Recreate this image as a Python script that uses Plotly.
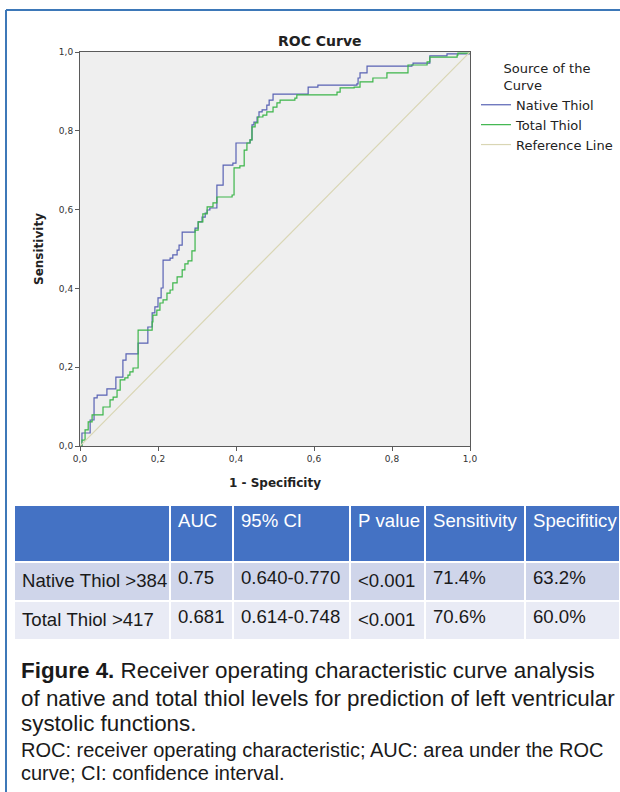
import plotly.graph_objects as go

# ---------------- data ----------------
native_fpr = [0, 0.005, 0.026, 0.036, 0.044, 0.069, 0.092, 0.110, 0.118, 0.149, 0.174, 0.185,
              0.192, 0.200, 0.208, 0.213, 0.231, 0.238, 0.249, 0.254, 0.262, 0.295, 0.303,
              0.313, 0.321, 0.326, 0.333, 0.351, 0.367, 0.392, 0.400, 0.436, 0.441, 0.446,
              0.454, 0.459, 0.467, 0.479, 0.485, 0.495, 0.585, 0.610, 0.710, 0.713, 0.718,
              0.736, 0.851, 0.854, 0.897, 0.941, 1.0]
native_tpr = [0, 0.033, 0.066, 0.122, 0.129, 0.145, 0.175, 0.218, 0.234, 0.261, 0.302, 0.338,
              0.353, 0.376, 0.401, 0.472, 0.477, 0.485, 0.497, 0.510, 0.543, 0.553, 0.569,
              0.581, 0.591, 0.599, 0.604, 0.662, 0.713, 0.718, 0.769, 0.777, 0.815, 0.822,
              0.835, 0.848, 0.853, 0.865, 0.878, 0.893, 0.911, 0.916, 0.919, 0.934, 0.947,
              0.964, 0.967, 0.972, 0.990, 0.995, 1.0]

total_fpr = [0, 0.005, 0.013, 0.021, 0.031, 0.059, 0.077, 0.085, 0.095, 0.103, 0.115, 0.123,
             0.128, 0.136, 0.149, 0.185, 0.187, 0.197, 0.205, 0.213, 0.223, 0.231, 0.238,
             0.249, 0.262, 0.269, 0.277, 0.287, 0.295, 0.303, 0.315, 0.326, 0.341, 0.351,
             0.390, 0.395, 0.410, 0.421, 0.428, 0.436, 0.441, 0.449, 0.456, 0.469, 0.479,
             0.495, 0.505, 0.513, 0.551, 0.556, 0.659, 0.667, 0.703, 0.718, 0.751, 0.787,
             0.841, 0.890, 0.897, 0.967, 0.969, 1.0]
total_tpr = [0, 0.015, 0.041, 0.061, 0.079, 0.099, 0.117, 0.124, 0.142, 0.168, 0.173, 0.180,
             0.188, 0.198, 0.294, 0.315, 0.332, 0.345, 0.363, 0.371, 0.388, 0.396, 0.414,
             0.429, 0.447, 0.462, 0.470, 0.495, 0.548, 0.569, 0.589, 0.607, 0.617, 0.632,
             0.637, 0.706, 0.711, 0.751, 0.769, 0.777, 0.810, 0.820, 0.835, 0.840, 0.848,
             0.860, 0.871, 0.878, 0.883, 0.891, 0.898, 0.909, 0.911, 0.924, 0.934, 0.947,
             0.967, 0.975, 0.987, 0.992, 0.997, 1.0]

ref_x = [0, 1]
ref_y = [0, 1]

tick_vals = [0, 0.2, 0.4, 0.6, 0.8, 1.0]
tick_text = ["0,0", "0,2", "0,4", "0,6", "0,8", "1,0"]

table_header = ["", "AUC", "95% CI", "P value", "Sensitivity", "Specifiticy"]
row_labels = ["Native Thiol >384", "Total Thiol >417"]
auc_vals = ["0.75", "0.681"]
ci_vals = ["0.640-0.770", "0.614-0.748"]
p_vals = ["<0.001", "<0.001"]
sens_vals = ["71.4%", "70.6%"]
spec_vals = ["63.2%", "60.0%"]

W, H = 620, 792
def px(x):
    return x / W
def py(y):
    return 1 - y / H

def nowrap(items):
    # keep each table entry on one line (non-breaking spaces)
    return [s.replace(" ", "\u00a0") for s in items]

CHART_FONT = "DejaVu Sans"
TEXT_FONT = "Liberation Sans"

fig = go.Figure()
fig.add_trace(go.Scatter(x=native_fpr, y=native_tpr, mode="lines", line_shape="hv",
                         name="Native Thiol", line=dict(color="#5862b4", width=1.2)))
fig.add_trace(go.Scatter(x=total_fpr, y=total_tpr, mode="lines", line_shape="hv",
                         name="Total Thiol", line=dict(color="#3cb54a", width=1.2)))
fig.add_trace(go.Scatter(x=ref_x, y=ref_y, mode="lines", name="Reference Line",
                         line=dict(color="#d9d6b4", width=1.2)))

fig.add_trace(go.Table(
    domain=dict(x=[px(14), 1.0], y=[py(642), py(505)]),
    columnwidth=[156, 63, 117, 75, 100, 95],
    header=dict(values=nowrap(table_header), fill_color="#4472c4",
                font=dict(family=TEXT_FONT, size=18.6, color="white"),
                align="left", height=57, line=dict(color="white", width=2)),
    cells=dict(values=[nowrap(row_labels), auc_vals, ci_vals, p_vals, sens_vals, spec_vals],
               fill_color=[["#cfd5ea", "#e9ebf5"]] * 6,
               font=dict(family=TEXT_FONT, size=18.6, color="#1a1a1a"),
               align="left", height=39, line=dict(color="white", width=2)),
))

axis_common = dict(range=[0, 1], tickvals=tick_vals, ticktext=tick_text, showgrid=False,
                   zeroline=False, showline=True, mirror=True, linecolor="#5a5a5a",
                   linewidth=1, ticks="outside", ticklen=4, tickcolor="#5a5a5a",
                   automargin=False,
                   tickfont=dict(family=CHART_FONT, size=9, color="#333333"))

fig.update_layout(
    width=W, height=H, autosize=False,
    margin=dict(l=0, r=0, t=0, b=0, pad=0, autoexpand=False),
    paper_bgcolor="white", plot_bgcolor="#efefef",
    xaxis=dict(domain=[px(80), px(470)], **axis_common,
               title=dict(text="<b>1 - Specificity</b>", standoff=15,
                          font=dict(family=CHART_FONT, size=12, color="#222222"))),
    yaxis=dict(domain=[py(446), py(52)], **axis_common,
               title=dict(text="<b>Sensitivity</b>", standoff=12,
                          font=dict(family=CHART_FONT, size=12, color="#222222"))),
    showlegend=True,
    legend=dict(x=px(476), y=py(56), xanchor="left", yanchor="top",
                bgcolor="rgba(0,0,0,0)", itemwidth=30, tracegroupgap=0,
                font=dict(family=CHART_FONT, size=13, color="#222222"),
                title=dict(text="Source of the<br>Curve", side="top center",
                           font=dict(family=CHART_FONT, size=13, color="#222222"))),
)

fig.add_annotation(x=px(320), y=py(41), xref="paper", yref="paper", text="<b>ROC Curve</b>",
                   xanchor="center", yanchor="middle", showarrow=False,
                   font=dict(family=CHART_FONT, size=14, color="#222222"))

captions = [
    ("<b>Figure 4.</b> Receiver operating characteristic curve analysis", 670, 22.4),
    ("of native and total thiol levels for prediction of left ventricular", 698, 22.4),
    ("systolic functions.", 723, 22.4),
    ("ROC: receiver operating characteristic; AUC: area under the ROC", 750, 20),
    ("curve; CI: confidence interval.", 773, 20),
]
for txt, yy, sz in captions:
    fig.add_annotation(x=px(19), y=py(yy), xref="paper", yref="paper", text=txt,
                       xanchor="left", yanchor="middle", showarrow=False,
                       font=dict(family=TEXT_FONT, size=sz, color="#1a1a1a"))

# frame of the figure panel
fig.add_shape(type="line", xref="paper", yref="paper", x0=px(6), x1=px(6), y0=py(10), y1=0,
              line=dict(color="#3d78b8", width=2))
fig.add_shape(type="line", xref="paper", yref="paper", x0=px(6), x1=1, y0=py(10), y1=py(10),
              line=dict(color="#3d78b8", width=2))

fig.write_html("out.html", config={"displayModeBar": False},
               post_script="document.body.style.margin='0px';")
